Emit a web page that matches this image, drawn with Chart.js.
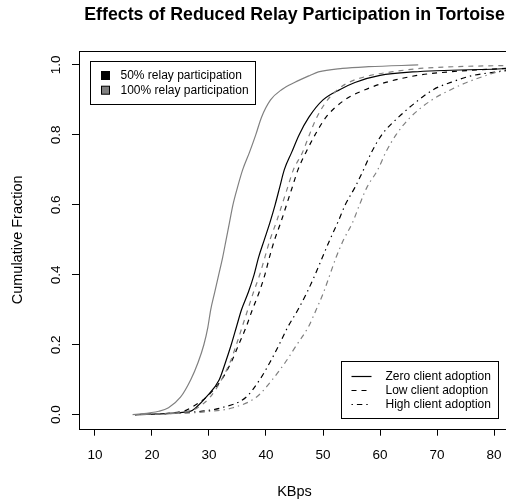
<!DOCTYPE html>
<html>
<head>
<meta charset="utf-8">
<title>Relay participation CDF</title>
<script src="https://cdn.jsdelivr.net/npm/chart.js@4"></script>
<style>
  html, body { margin: 0; padding: 0; background: #fff; }
  body { width: 506px; height: 501px; overflow: hidden; }
  #wrap { width: 520px; height: 501px; }
</style>
</head>
<body>
<div id="wrap"><canvas id="cdf" width="520" height="501"></canvas></div>
<script>
// cumulative fraction levels shared by every curve
const fractions = [0, 0.01, 0.02, 0.05, 0.1, 0.15, 0.2, 0.25, 0.3, 0.35, 0.4, 0.45, 0.5,
  0.55, 0.6, 0.65, 0.7, 0.75, 0.8, 0.85, 0.9, 0.93, 0.95, 0.97, 0.98, 0.99, 0.995, 1.0];

// KBps reached at each fraction level
const half_zero = [17.0, 26.8, 27.7, 29.5, 31.8, 32.9, 33.9, 34.8, 35.7, 36.9, 37.9, 38.7, 39.7,
  40.7, 41.6, 42.4, 43.2, 44.5, 45.8, 47.5, 50.0, 53.0, 55.6, 60.0, 65.7, 83.0, 88.0, 95.0];
const half_low = [17.0, 25.5, 26.8, 29.5, 32.2, 33.9, 35.2, 36.5, 37.6, 38.8, 39.8, 40.6, 41.5,
  42.6, 43.6, 44.6, 45.6, 47.0, 48.6, 50.5, 53.8, 57.5, 61.0, 66.5, 72.0, 82.0, 88.0, 95.0];
const half_high = [17.0, 28.8, 32.2, 36.5, 38.9, 40.7, 42.3, 43.8, 45.6, 47.2, 48.6, 49.9, 51.2,
  52.6, 53.9, 55.6, 57.1, 58.5, 60.3, 63.2, 66.8, 69.4, 72.4, 76.3, 80.5, 85.0, 90.0, 96.0];
const full_zero = [16.6, 21.2, 22.9, 25.0, 26.8, 28.1, 29.1, 29.8, 30.3, 31.0, 31.7, 32.4, 33.0,
  33.6, 34.2, 35.0, 35.9, 37.1, 38.2, 39.2, 40.8, 42.8, 45.0, 47.7, 49.2, 53.4, 58.0, 66.7];
const full_low = [17.0, 26.5, 28.0, 30.2, 32.2, 33.7, 34.8, 35.8, 36.8, 37.8, 38.9, 39.8, 40.7,
  41.8, 42.8, 43.8, 44.8, 46.4, 47.6, 48.9, 50.8, 52.6, 54.5, 58.3, 62.0, 67.0, 73.0, 90.0];
const full_high = [17.0, 30.5, 34.2, 38.3, 41.1, 43.4, 45.4, 47.4, 48.8, 50.1, 51.2, 52.3, 53.6,
  55.2, 56.4, 57.7, 59.6, 61.0, 62.8, 65.3, 69.1, 72.5, 75.2, 78.6, 80.5, 83.0, 88.0, 95.0];

const x_ticks = [10, 20, 30, 40, 50, 60, 70, 80];
const y_ticks = [0, 0.2, 0.4, 0.6, 0.8, 1.0];

const relay_labels = ["50% relay participation", "100% relay participation"];
const adoption_labels = ["Zero client adoption", "Low client adoption", "High client adoption"];

const FONT = '"Liberation Sans", Arial, Helvetica, sans-serif';
const BLACK = "#000000";
const GRAY = "#808080";
const DASHES = [[], [5, 5], [1.4, 4, 5.4, 4]];

function curve(kbps) {
  return kbps.map((x, i) => ({ x: x, y: fractions[i] }));
}

function line(label, kbps, color, dash) {
  return {
    label: label,
    data: curve(kbps),
    showLine: true,
    cubicInterpolationMode: "monotone",
    borderColor: color,
    borderWidth: 1.2,
    borderDash: dash,
    pointRadius: 0,
    fill: false,
  };
}

// frame around the plotting region plus the two hand-laid legends
const boxLegends = {
  id: "boxLegends",
  afterDraw(chart) {
    const ctx = chart.ctx;
    const a = chart.chartArea;
    ctx.save();
    ctx.strokeStyle = BLACK;
    ctx.lineWidth = 1;
    ctx.setLineDash([]);
    ctx.strokeRect(Math.round(a.left) + 0.5, Math.round(a.top) + 0.5,
      Math.round(a.right - a.left), Math.round(a.bottom - a.top));

    ctx.font = "12px " + FONT;
    ctx.textBaseline = "middle";
    ctx.fillStyle = BLACK;

    // relay participation: filled squares
    const lx = Math.round(a.left) + 11.5, ly = Math.round(a.top) + 10.5;
    ctx.strokeRect(lx, ly, 165, 43);
    [BLACK, GRAY].forEach((c, i) => {
      const cy = ly + 14 + i * 14.7;
      ctx.fillStyle = c;
      ctx.fillRect(lx + 11, cy - 4, 8, 8);
      ctx.strokeRect(lx + 11, cy - 4, 8, 8);
      ctx.fillStyle = BLACK;
      ctx.fillText(relay_labels[i], lx + 30, cy + 0.5);
    });

    // client adoption: line styles
    const rx = 341.5, ry = Math.round(a.bottom) - 67.5;
    ctx.strokeRect(rx, ry, 157, 57);
    adoption_labels.forEach((t, i) => {
      const cy = ry + 15 + i * 14;
      ctx.beginPath();
      ctx.setLineDash(DASHES[i]);
      ctx.lineWidth = 1.2;
      ctx.moveTo(rx + 10, cy);
      ctx.lineTo(rx + 30, cy);
      ctx.stroke();
      ctx.setLineDash([]);
      ctx.lineWidth = 1;
      ctx.fillText(t, rx + 44, cy + 0.5);
    });
    ctx.restore();
  },
};

new Chart(document.getElementById("cdf"), {
  type: "scatter",
  data: {
    datasets: [
      line("100% relay, zero adoption", full_zero, GRAY, DASHES[0]),
      line("100% relay, low adoption", full_low, GRAY, DASHES[1]),
      line("100% relay, high adoption", full_high, GRAY, DASHES[2]),
      line("50% relay, zero adoption", half_zero, BLACK, DASHES[0]),
      line("50% relay, low adoption", half_low, BLACK, DASHES[1]),
      line("50% relay, high adoption", half_high, BLACK, DASHES[2]),
    ],
  },
  options: {
    responsive: false,
    animation: false,
    devicePixelRatio: 1,
    layout: { padding: { left: 0, right: 10, top: 0, bottom: 0 } },
    plugins: {
      legend: { display: false },
      tooltip: { enabled: false },
      title: {
        display: true,
        fullSize: false,
        text: "Effects of Reduced Relay Participation in Tortoise",
        color: BLACK,
        font: { family: FONT, size: 17.8, weight: "bold", lineHeight: 1.2 },
        padding: { top: 4.5, bottom: 25.1 },
      },
    },
    scales: {
      x: {
        type: "linear",
        min: 7.2,
        max: 82.8,
        afterBuildTicks: (s) => { s.ticks = x_ticks.map((v) => ({ value: v })); },
        afterFit: (s) => { s.height = 72.3; },
        border: { display: false },
        grid: { drawOnChartArea: false, drawTicks: true, tickLength: 7, color: BLACK, lineWidth: 1 },
        ticks: { color: BLACK, padding: 11, maxRotation: 0, font: { family: FONT, size: 13.5 } },
        title: {
          display: true,
          text: "KBps",
          color: BLACK,
          font: { family: FONT, size: 14.5 },
          padding: { top: 0, bottom: 0.5 },
        },
      },
      y: {
        type: "linear",
        min: -0.04,
        max: 1.04,
        afterBuildTicks: (s) => { s.ticks = y_ticks.map((v) => ({ value: v })); },
        afterFit: (s) => { s.width = 79; },
        border: { display: false },
        grid: { drawOnChartArea: false, drawTicks: true, tickLength: 7, color: BLACK, lineWidth: 1 },
        ticks: {
          color: BLACK,
          padding: 6,
          minRotation: 90,
          maxRotation: 90,
          crossAlign: "center",
          font: { family: FONT, size: 13.5 },
          callback: (v) => v.toFixed(1),
        },
        title: {
          display: true,
          text: "Cumulative Fraction",
          color: BLACK,
          font: { family: FONT, size: 14.5 },
          padding: { top: 9, bottom: 0 },
        },
      },
    },
  },
  plugins: [boxLegends],
});
</script>
</body>
</html>
